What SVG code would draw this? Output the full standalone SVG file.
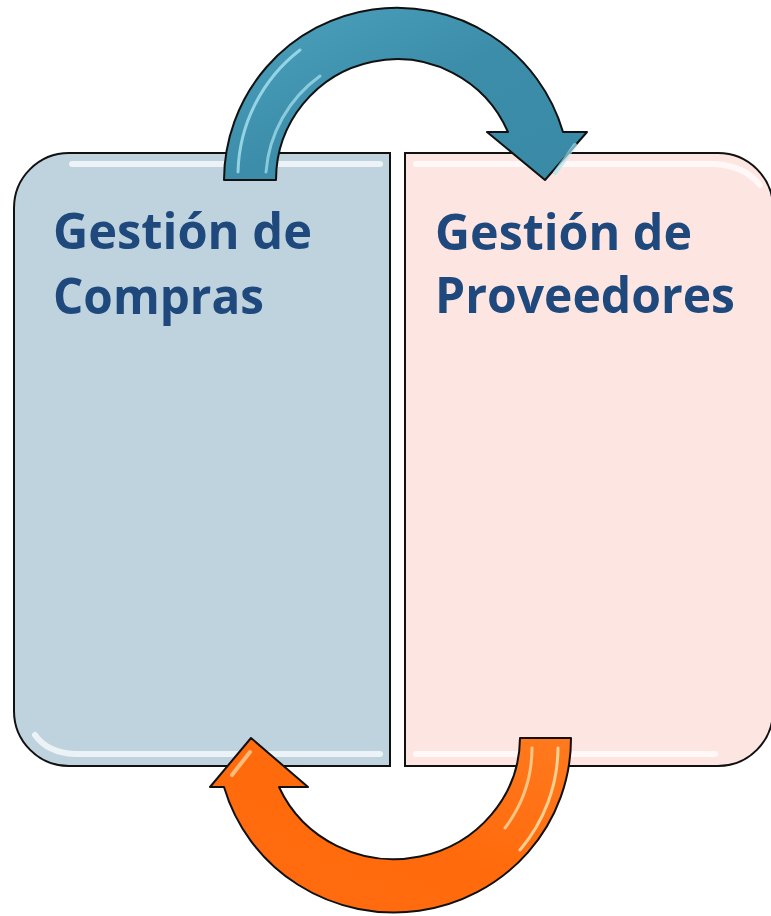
<svg xmlns="http://www.w3.org/2000/svg" width="771" height="916" viewBox="0 0 771 916">
  <style>
    .box { stroke: #111; stroke-width: 2; }
    .shine { fill: none; stroke: #ffffff; stroke-width: 6; stroke-linecap: round; opacity: 0.7; }
    .label { font-family: "Open Sans", "Liberation Sans", sans-serif; font-weight: 700; font-size: 50px; fill: #1F497D; }
    .arrow { stroke: #111; stroke-width: 2; stroke-linejoin: round; }
  </style>
  <defs>
    <linearGradient id="blueG" x1="0" y1="0" x2="1" y2="1">
      <stop offset="0" stop-color="#4FA3BD"/>
      <stop offset="0.5" stop-color="#3B8DA9"/>
      <stop offset="1" stop-color="#3A8AA6"/>
    </linearGradient>
    <linearGradient id="orangeG" x1="1" y1="0" x2="0" y2="1">
      <stop offset="0" stop-color="#FF7A1E"/>
      <stop offset="0.5" stop-color="#FF6A0C"/>
      <stop offset="1" stop-color="#FF6B10"/>
    </linearGradient>
  </defs>

  <g id="compras">
    <path class="box" fill="#BED3DD" d="M69,153 L390,153 L390,766 L69,766 A55,55 0 0 1 14,711 L14,208 A55,55 0 0 1 69,153 Z"/>
    <path class="shine" d="M72,164 L380,164"/>
    <path class="shine" d="M35,735 Q48,753 75,754 L380,754"/>
    <text class="label" x="53" y="249" textLength="259" lengthAdjust="spacingAndGlyphs">Gestión de</text>
    <text class="label" x="53" y="314" textLength="211" lengthAdjust="spacingAndGlyphs">Compras</text>
  </g>

  <g id="proveedores">
    <path class="box" fill="#FDE6E2" d="M405,153 L718,153 A55,55 0 0 1 773,208 L773,711 A55,55 0 0 1 718,766 L405,766 Z"/>
    <path class="shine" d="M416,164 L715,164 Q745,166 760,185"/>
    <path class="shine" d="M416,754 L715,754"/>
    <text class="label" x="435" y="250" textLength="257" lengthAdjust="spacingAndGlyphs">Gestión de</text>
    <text class="label" x="435" y="313" textLength="300" lengthAdjust="spacingAndGlyphs">Proveedores</text>
  </g>

  <g id="connectors">
    <g id="arrow-top">
      <path class="arrow" fill="url(#blueG)" d="M224,180 A173,173 0 0 1 563,132 L587,132 L545,180 L487,132 L508,132 A121,121 0 0 0 276,180 Z"/>
      <path d="M238,172 A159,159 0 0 1 300,50" fill="none" stroke="#A9E4F2" stroke-width="3" opacity="0.8" stroke-linecap="round"/>
      <path d="M266,172 A131,131 0 0 1 320,76" fill="none" stroke="#A9E4F2" stroke-width="3" opacity="0.7" stroke-linecap="round"/>
      <path d="M555,173 L575,145" fill="none" stroke="#A9E4F2" stroke-width="4" opacity="0.7" stroke-linecap="round"/>
    </g>
    <g id="arrow-bottom">
      <path class="arrow" fill="url(#orangeG)" d="M571,738 A177,174 0 0 1 224,787 L210,787 L251,738 L308,787 L279,787 A126,122 0 0 0 520,738 Z"/>
      <path d="M558,748 A164,161 0 0 1 520,850" fill="none" stroke="#FFE0A8" stroke-width="3" opacity="0.85" stroke-linecap="round"/>
      <path d="M532,748 A138,135 0 0 1 505,828" fill="none" stroke="#FFE0A8" stroke-width="3" opacity="0.75" stroke-linecap="round"/>
      <path d="M232,775 L250,752" fill="none" stroke="#FFE0A8" stroke-width="4" opacity="0.7" stroke-linecap="round"/>
    </g>
  </g>
</svg>
